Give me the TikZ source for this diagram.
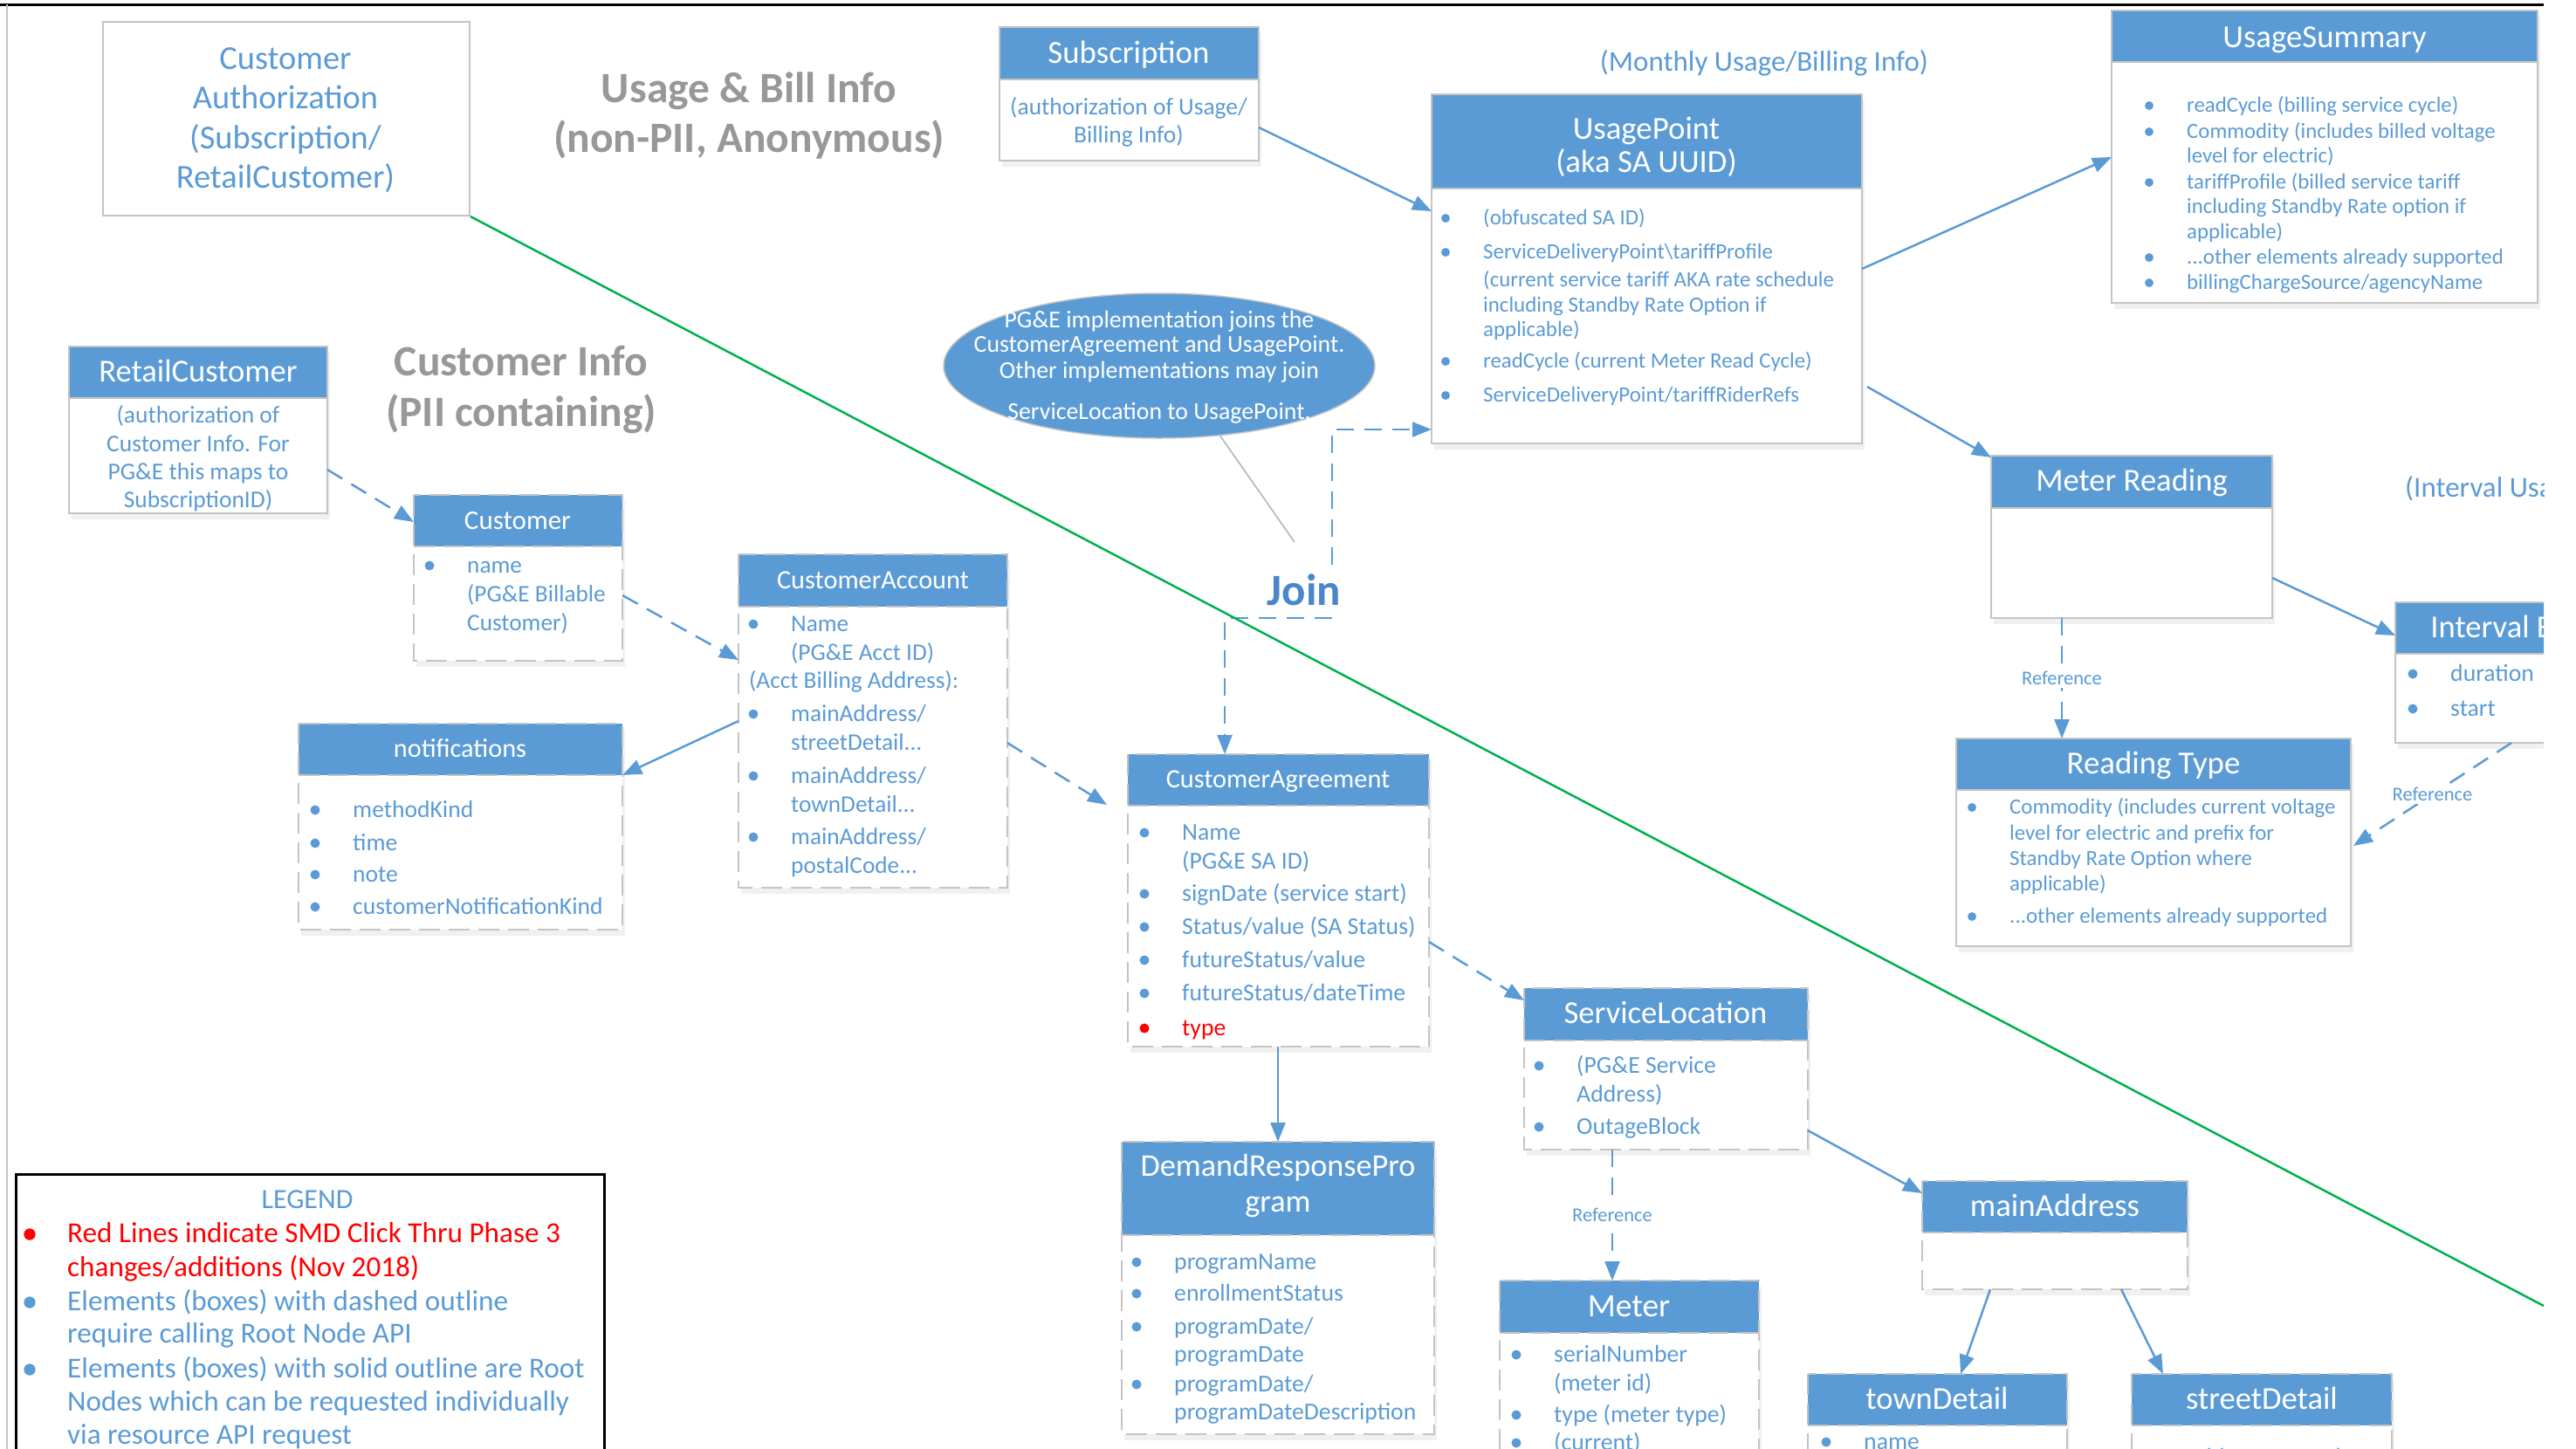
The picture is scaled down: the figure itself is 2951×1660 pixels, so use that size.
\documentclass[tikz,border=0pt]{standalone}
\usepackage{fontspec}
\setmainfont{Carlito}
\usetikzlibrary{arrows.meta,shapes.geometric}
\definecolor{hblue}{HTML}{5B9BD5}
\definecolor{tblue}{HTML}{5B9BD5}
\definecolor{jblue}{HTML}{4A86C8}
\definecolor{bgray}{HTML}{C4C4C4}
\definecolor{tgray}{HTML}{989898}
\definecolor{gline}{HTML}{00B050}
\definecolor{rred}{HTML}{FF0000}
\newcommand{\fs}[1]{\fontsize{#1}{#1}\selectfont}
\tikzset{
  conn/.style={draw=hblue, line width=2.5pt, -{Triangle[length=22pt,width=17pt]}},
  dconn/.style={conn, dash pattern=on 20pt off 12pt},
  solidb/.style={draw=bgray, line width=2pt},
  dashb/.style={draw=bgray, line width=2pt, dash pattern=on 24pt off 10pt},
  reflbl/.style={fill=white, inner sep=3pt, text=tblue, font=\fs{22.5}}
}
\newcommand{\ubox}[7]{%
  \fill[black, opacity=0.06] ([xshift=3pt,yshift=-7pt]#2pt,-#3pt) rectangle ++(#4pt,-#5pt);
  \node[fill=white, inner sep=0pt, outer sep=0pt, minimum width=#4pt, minimum height=#5pt, anchor=north west] (#1) at (#2,#3) {};
  \fill[hblue] (#1.north west) rectangle ([yshift=-#6pt]#1.north east);
  \draw[#7] (#1.north west) rectangle (#1.south east);
  \draw[#7] ([yshift=-#6pt]#1.north west) -- ([yshift=-#6pt]#1.north east);
}
\newcommand{\itm}[6][tblue]{%
  \fill[#1] (#4-43,#5) circle[radius=#3*0.2];
  \node[inner sep=0pt, anchor=base west, text=#1, font=\fs{#3}] (#2) at (#4,#5+0.3*#3) {#6};
}
\newcommand{\ctl}[6][tblue]{%
  \node[inner sep=0pt, anchor=base west, text=#1, font=\fs{#3}] (#2) at (#4,#5+0.3*#3) {#6};
}
\newcommand{\ctxt}[6][tblue]{%
  \node[inner sep=0pt, anchor=base, text=#1, font=\fs{#3}] (#2) at (#4,#5+0.3*#3) {#6};
}
\begin{document}
\begin{tikzpicture}[x=1pt,y=-1pt]
\useasboundingbox (0,0) rectangle (2951,1660);
\begin{scope}
\clip (0,0) rectangle (2914,1660);
\fill[white] (0,0) rectangle (2914,1660);
\draw[black, line width=3pt] (0,5) -- (2914,5);
\draw[bgray, line width=1.5pt] (8,5) -- (8,1660);

% Customer Authorization
\node[draw=bgray, line width=2pt, fill=white, minimum width=420pt, minimum height=222pt, anchor=north west, inner sep=0pt] (cauth) at (117,24) {};
\ctxt{cat1}{38.4}{327}{68}{Customer}
\ctxt{cat2}{38.4}{327}{113}{Authorization}
\ctxt{cat3}{38.4}{327}{159}{(Subscription/}
\ctxt{cat4}{38.4}{327}{204}{RetailCustomer)}

% titles
\ctxt[tgray]{t1a}{49.5}{858}{103}{\bfseries Usage \& Bill Info}
\ctxt[tgray]{t1b}{49.5}{858}{160}{\bfseries (non-PII, Anonymous)}
\ctxt[tgray]{t2a}{49.5}{597}{416}{\bfseries Customer Info}
\ctxt[tgray]{t2b}{49.5}{597}{474}{\bfseries (PII containing)}
\ctxt{mon}{33}{2021}{72}{(Monthly Usage/Billing Info)}
\ctl{ivu}{33}{2755}{560}{(Interval Usage Info)}

% Subscription
\ubox{sub}{1145}{31}{297}{153}{60}{solidb}
\ctxt[white]{subh}{36.8}{1293}{61}{Subscription}
\ctxt{sub1}{27.5}{1293}{123}{(authorization of Usage/}
\ctxt{sub2}{27.5}{1293}{155}{Billing Info)}

% UsagePoint
\ubox{up}{1640}{108}{493}{400}{108}{solidb}
\ctxt[white]{uph1}{36.8}{1886}{148}{UsagePoint}
\ctxt[white]{uph2}{36.8}{1886}{186}{(aka SA UUID)}
\itm{up1}{24.9}{1699}{250}{(obfuscated SA ID)}
\itm{up2}{24.9}{1699}{289}{ServiceDeliveryPoint\textbackslash tariffProfile}
\ctl{up3}{24.9}{1699}{321}{(current service tariff AKA rate schedule}
\ctl{up4}{24.9}{1699}{350}{including Standby Rate Option if}
\ctl{up5}{24.9}{1699}{378}{applicable)}
\itm{up6}{24.9}{1699}{414}{readCycle (current Meter Read Cycle)}
\itm{up7}{24.9}{1699}{453}{ServiceDeliveryPoint/tariffRiderRefs}

% UsageSummary
\ubox{us}{2419}{12}{488}{335}{59}{solidb}
\ctxt[white]{ush}{36.8}{2663}{43}{UsageSummary}
\itm{us1}{24.8}{2505}{121}{readCycle (billing service cycle)}
\itm{us2}{24.8}{2505}{151}{Commodity (includes billed voltage}
\ctl{us3}{24.8}{2505}{179}{level for electric)}
\itm{us4}{24.8}{2505}{209}{tariffProfile (billed service tariff}
\ctl{us5}{24.8}{2505}{237}{including Standby Rate option if}
\ctl{us6}{24.8}{2505}{266}{applicable)}
\itm{us7}{24.8}{2505}{295}{...other elements already supported}
\itm{us8}{24.8}{2505}{324}{billingChargeSource/agencyName}

% RetailCustomer
\ubox{rc}{79}{397}{296}{191}{59}{solidb}
\ctxt[white]{rch}{36.6}{227}{427}{RetailCustomer}
\ctxt{rc1}{27.5}{227}{476}{(authorization of}
\ctxt{rc2}{27.5}{227}{509}{Customer Info. For}
\ctxt{rc3}{27.5}{227}{541}{PG\&E this maps to}
\ctxt{rc4}{27.5}{227}{573}{SubscriptionID)}

% Customer
\ubox{cust}{474}{567}{239}{190}{59}{dashb}
\ctxt[white]{custh}{31}{593}{597}{Customer}
\itm{cu1}{27.3}{535}{648}{name}
\ctl{cu2}{27.3}{535}{681}{(PG\&E Billable}
\ctl{cu3}{27.3}{535}{714}{Customer)}

% CustomerAccount
\ubox{cacc}{846}{635}{308}{382}{60}{dashb}
\ctxt[white]{cacch}{30.3}{1000}{665}{CustomerAccount}
\itm{ac1}{27.3}{906}{715}{Name}
\ctl{ac2}{27.3}{906}{748}{(PG\&E Acct ID)}
\ctl{ac3}{27.3}{858}{780}{(Acct Billing Address):}
\itm{ac4}{27.3}{906}{818}{mainAddress/}
\ctl{ac5}{27.3}{906}{851}{streetDetail...}
\itm{ac6}{27.3}{906}{889}{mainAddress/}
\ctl{ac7}{27.3}{906}{922}{townDetail...}
\itm{ac8}{27.3}{906}{959}{mainAddress/}
\ctl{ac9}{27.3}{906}{992}{postalCode...}

% notifications
\ubox{notif}{342}{829}{371}{236}{59}{dashb}
\ctxt[white]{notifh}{30.3}{527}{858}{notifications}
\itm{nt1}{27.6}{404}{928}{methodKind}
\itm{nt2}{27.6}{404}{966}{time}
\itm{nt3}{27.6}{404}{1002}{note}
\itm{nt4}{27.6}{404}{1039}{customerNotificationKind}

% CustomerAgreement
\ubox{cagr}{1292}{864}{345}{335}{59}{dashb}
\ctxt[white]{cagrh}{30.3}{1464}{893}{CustomerAgreement}
\itm{cg1}{27.7}{1354}{954}{Name}
\ctl{cg2}{27.7}{1354}{987}{(PG\&E SA ID)}
\itm{cg3}{27.7}{1354}{1024}{signDate (service start)}
\itm{cg4}{27.7}{1354}{1062}{Status/value (SA Status)}
\itm{cg5}{27.7}{1354}{1100}{futureStatus/value}
\itm{cg6}{27.7}{1354}{1138}{futureStatus/dateTime}
\itm[rred]{cg7}{27.7}{1354}{1178}{type}

% ServiceLocation
\ubox{sloc}{1746}{1132}{325}{185}{60}{dashb}
\ctxt[white]{sloch}{36.6}{1908}{1162}{ServiceLocation}
\itm{sl1}{27.7}{1806}{1221}{(PG\&E Service}
\ctl{sl2}{27.7}{1806}{1254}{Address)}
\itm{sl3}{27.7}{1806}{1291}{OutageBlock}

% DemandResponseProgram
\ubox{drp}{1285}{1308}{358}{335}{107}{dashb}
\ctxt[white]{drph1}{36.2}{1464}{1337}{DemandResponsePro}
\ctxt[white]{drph2}{36.2}{1464}{1378}{gram}
\itm{dr1}{27.7}{1345}{1446}{programName}
\itm{dr2}{27.7}{1345}{1482}{enrollmentStatus}
\itm{dr3}{27.7}{1345}{1520}{programDate/}
\ctl{dr4}{27.7}{1345}{1552}{programDate}
\itm{dr5}{27.7}{1345}{1586}{programDate/}
\ctl{dr6}{27.7}{1345}{1618}{programDateDescription}

% Meter
\ubox{meter}{1718}{1467}{297}{260}{60}{dashb}
\ctxt[white]{meterh}{37.5}{1866}{1497}{Meter}
\itm{me1}{27.7}{1780}{1552}{serialNumber}
\ctl{me2}{27.7}{1780}{1585}{(meter id)}
\itm{me3}{27.7}{1780}{1621}{type (meter type)}
\itm{me4}{27.7}{1780}{1653}{(current)}

% mainAddress
\ubox{maddr}{2202}{1353}{304}{124}{59}{dashb}
\ctxt[white]{maddrh}{36.8}{2354}{1382}{mainAddress}

% townDetail / streetDetail
\ubox{town}{2071}{1574}{297}{150}{59}{dashb}
\ctxt[white]{townh}{36.6}{2219}{1603}{townDetail}
\itm{tw1}{27.7}{2135}{1652}{name}
\ubox{street}{2442}{1574}{298}{150}{59}{dashb}
\ctxt[white]{streeth}{36.6}{2591}{1603}{streetDetail}
\itm{st1}{27.7}{2506}{1670}{addressGeneral}

% Meter Reading
\ubox{mr}{2281}{522}{322}{186}{60}{solidb}
\ctxt[white]{mrh}{36.6}{2442}{552}{Meter Reading}

% Reading Type
\ubox{rt}{2241}{846}{452}{238}{59}{solidb}
\ctxt[white]{rth}{36.8}{2467}{875}{Reading Type}
\itm{rt1}{24.9}{2302}{925}{Commodity (includes current voltage}
\ctl{rt2}{24.9}{2302}{955}{level for electric and prefix for}
\ctl{rt3}{24.9}{2302}{984}{Standby Rate Option where}
\ctl{rt4}{24.9}{2302}{1013}{applicable)}
\itm{rt5}{24.9}{2302}{1050}{...other elements already supported}

% Interval Block
\ubox{ib}{2744}{690}{282}{161}{59}{solidb}
\ctxt[white]{ibh}{36.6}{2885}{720}{Interval Block}
\itm{ib1}{27.7}{2807}{772}{duration}
\itm{ib2}{27.7}{2807}{812}{start}

% Ellipse note
\node[ellipse, fill=hblue, draw=bgray, line width=1.5pt, minimum width=494pt, minimum height=166pt, inner sep=0pt] (ell) at (1328,419) {};
\ctxt[white]{el1}{27.8}{1328}{367}{PG\&E implementation joins the}
\ctxt[white]{el2}{27.8}{1328}{395}{CustomerAgreement and UsagePoint.}
\ctxt[white]{el3}{27.8}{1328}{425}{Other implementations may join}
\ctxt[white]{el4}{27.8}{1328}{472}{ServiceLocation to UsagePoint.}

% Join
\ctxt[jblue]{join}{51}{1494}{678}{\bfseries Join}
\coordinate (jnote) at (1483,621);
\coordinate (jtop) at (1526,647);
\coordinate (jbot) at (1526,708);
\draw[gray!60, line width=1.5pt] (ell.-49) -- (jnote);
\draw[dconn] (jtop) |- ([yshift=-384pt]up.north west);
\draw[dconn] (jbot) -| ([xshift=111pt]cagr.north west);

% Legend
\node[draw=black, line width=2.5pt, fill=white, minimum width=674pt, minimum height=400pt, anchor=north west, inner sep=0pt] (legend) at (17,1344) {};
\ctxt{lg}{32}{352}{1375}{LEGEND}
\itm[rred]{lg1}{33.2}{77}{1414}{Red Lines indicate SMD Click Thru Phase 3}
\ctl[rred]{lg2}{33.2}{77}{1453}{changes/additions (Nov 2018)}
\itm{lg3}{33.2}{77}{1492}{Elements (boxes) with dashed outline}
\ctl{lg4}{33.2}{77}{1529}{require calling Root Node API}
\itm{lg5}{33.2}{77}{1569}{Elements (boxes) with solid outline are Root}
\ctl{lg6}{33.2}{77}{1607}{Nodes which can be requested individually}
\ctl{lg7}{33.2}{77}{1645}{via resource API request}

% Connectors
\draw[conn] ([yshift=-115pt]sub.north east) -- ([yshift=-134pt]up.north west);
\draw[conn] ([yshift=-200pt]up.north east) -- ([yshift=-168pt]us.north west);
\draw[conn] ([xshift=6pt,yshift=-335pt]up.north east) -- ([yshift=-2pt]mr.north west);
\draw[conn] ([yshift=-140pt]mr.north east) -- ([yshift=-38pt]ib.north west);
\draw[dconn] ([xshift=81pt]mr.south west) -- node[reflbl] {Reference} ([xshift=121pt]rt.north west);
\draw[dconn] ([xshift=133pt]ib.south west) -- node[reflbl] {Reference} ([xshift=3pt,yshift=-123pt]rt.north east);
\draw[dconn] ([yshift=-141pt]rc.north east) -- ([yshift=-31pt]cust.north west);
\draw[dconn] ([yshift=-115pt]cust.north east) -- ([yshift=-121pt]cacc.north west);
\draw[conn] ([yshift=-191pt]cacc.north west) -- ([yshift=-59pt]notif.north east);
\draw[dconn] ([yshift=-216pt]cacc.north east) -- ([xshift=-24pt,yshift=-58pt]cagr.north west);
\draw[conn] ([xshift=172pt]cagr.south west) -- ([xshift=179pt]drp.north west);
\draw[dconn] ([yshift=-215pt]cagr.north east) -- ([yshift=-14pt]sloc.north west);
\draw[dconn] ([xshift=101pt]sloc.south west) -- node[reflbl] {Reference} ([xshift=129pt]meter.north west);
\draw[conn] ([yshift=-163pt]sloc.north east) -- ([yshift=-14pt]maddr.north west);
\draw[conn] ([xshift=78pt]maddr.south west) -- ([xshift=175pt]town.north west);
\draw[conn] ([xshift=228pt]maddr.south west) -- ([xshift=36pt]street.north west);

% green divider
\coordinate (gend) at (2914,1496);
\draw[gline, line width=2.5pt] (cauth.south east) -- (gend);
\end{scope}
\end{tikzpicture}
\end{document}
